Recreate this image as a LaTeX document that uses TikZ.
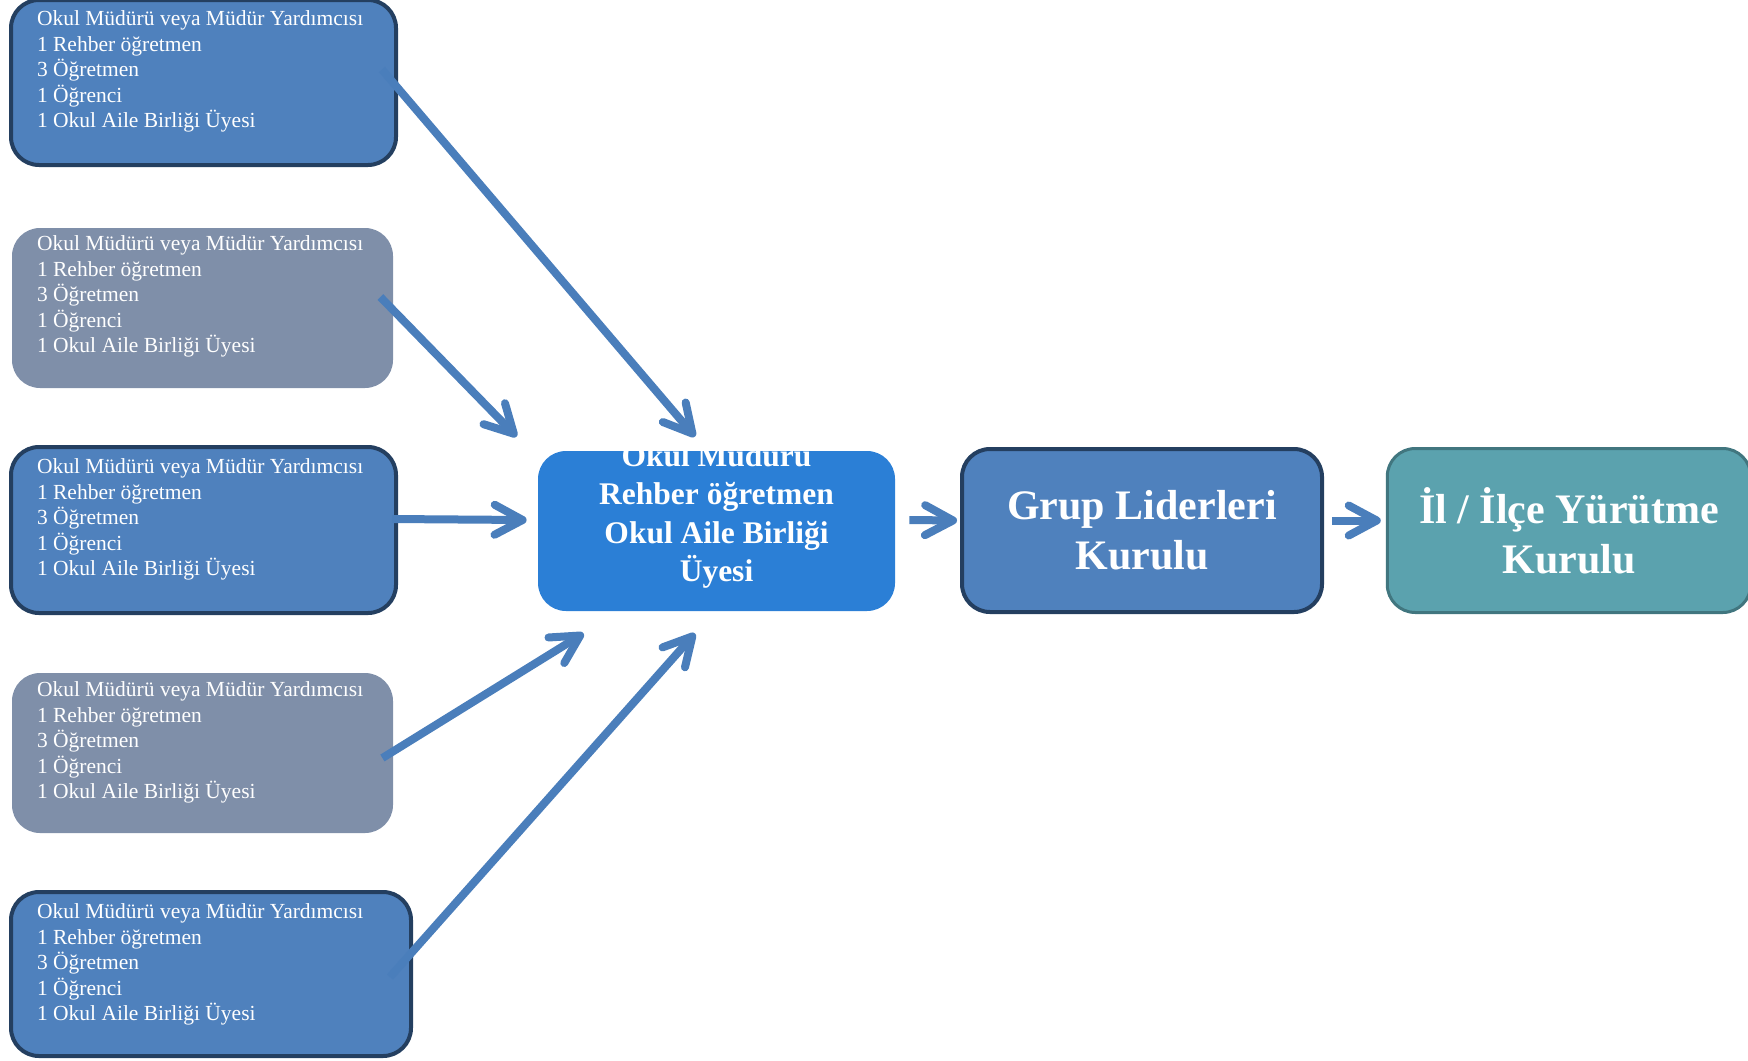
\documentclass[tikz,border=0pt]{standalone}
\usepackage{fontspec}
\setmainfont{Liberation Serif}
\usepackage{tikz}
\usetikzlibrary{arrows.meta}
\usetikzlibrary{calc}
\definecolor{kutumavi}{HTML}{4F81BD}
\definecolor{kenarlacivert}{HTML}{243F60}
\definecolor{grimavi}{HTML}{7F8FA9}
\definecolor{ortamavi}{HTML}{2B7FD6}
\definecolor{camgobegi}{HTML}{5BA2AE}
\definecolor{camkenar}{HTML}{41767F}
\definecolor{okmavi}{HTML}{4A7EBB}
\tikzstyle{uye} = [rounded corners=14pt, inner sep=0pt, text=white, font=\fontsize{10.75}{12.75}\selectfont]
\tikzstyle{uyekoyu} = [uye, fill=kutumavi, draw=kenarlacivert, line width=2pt]
\tikzstyle{uyegri} = [uye, fill=grimavi]
\tikzstyle{kurul} = [rounded corners=14pt, text=white, align=center, font=\fontsize{21}{25}\bfseries\selectfont]
\newcommand{\uyeler}[2]{\parbox[c][#2][t]{#1}{Okul Müdürü veya Müdür Yardımcısı\\1 Rehber öğretmen\\3 Öğretmen\\1 Öğrenci\\1 Okul Aile Birliği Üyesi}}

\begin{document}
\begin{tikzpicture}[x=0.5pt, y=-0.5pt,
                    ok/.style={draw=okmavi, line width=4pt, -{Straight Barb[round, length=14pt, width=15pt]}}]

    \useasboundingbox (0,0) rectangle (1748,1060);

    % okul temsilcileri
    \node[uyekoyu, minimum width=192.5pt, minimum height=82.5pt] (b1) at (203.5,82.5) {\uyeler{166.5pt}{71.7pt}};
    \node[uyegri, minimum width=190.5pt, minimum height=80pt] (b2) at (202.5,308) {\uyeler{165.5pt}{72.2pt}};
    \node[uyekoyu, minimum width=192.5pt, minimum height=83pt] (b3) at (203.5,530) {\uyeler{166.5pt}{71pt}};
    \node[uyegri, minimum width=190.5pt, minimum height=80pt] (b4) at (202.5,753) {\uyeler{165.5pt}{71pt}};
    \node[uyekoyu, minimum width=200pt, minimum height=82pt] (b5) at (211,974) {\uyeler{174pt}{70pt}};

    % okul kurulu
    \node[rounded corners=14pt, fill=ortamavi, minimum width=178.5pt, minimum height=80pt] (mid) at (716.5,531) {};
    \begin{scope}
        \clip[rounded corners=14pt] (mid.north west) rectangle (mid.south east);
        \node[text=white, align=center, font=\fontsize{15.75}{19.25}\bfseries\selectfont] (midyazi) at (716.5,516.5) {Okul Müdürü\\Rehber öğretmen\\Okul Aile Birliği\\Üyesi};
    \end{scope}

    % ust kurullar
    \node[kurul, fill=kutumavi, draw=kenarlacivert, line width=2pt, minimum width=180pt, minimum height=81.5pt] (grup) at (1142,530.5) {Grup Liderleri\\Kurulu};
    \node[kurul, fill=camgobegi, draw=camkenar, line width=1.5pt, minimum width=181.75pt, minimum height=82pt] (il) at (1569,530.5) {İl / İlçe Yürütme\\Kurulu};

    % ok uclari
    \coordinate (c1) at ($(b1.east)+(-16,-13)$);
    \coordinate (t1) at ($(mid.north)+(-21.5,-14)$);
    \coordinate (c2) at ($(b2.east)+(-13,-11)$);
    \coordinate (t2) at ($(mid.north west)+(-21,-14)$);
    \coordinate (c3) at ($(b3.east)+(-6,-11)$);
    \coordinate (t3) at ($(mid.west)+(-11,-11)$);
    \coordinate (c4) at ($(b4.east)+(-11,5)$);
    \coordinate (t4) at ($(mid.south west)+(46,22)$);
    \coordinate (c5) at ($(b5.east)+(-23,3)$);
    \coordinate (t5) at ($(mid.south)+(-21.5,22)$);
    \coordinate (c6) at ($(mid.east)+(14,-11)$);
    \coordinate (t6) at ($(grup.west)+(-3,-10)$);
    \coordinate (c7) at ($(grup.east)+(8,-10)$);
    \coordinate (t7) at ($(il.west)+(-5,-10)$);

    % temsilciler -> okul kurulu
    \draw[ok] (c1) -- (t1);
    \draw[ok] (c2) -- (t2);
    \draw[ok] (c3) -- (t3);
    \draw[ok] (c4) -- (t4);
    \draw[ok] (c5) -- (t5);

    % okul kurulu -> grup liderleri -> il / ilce
    \draw[ok] (c6) -- (t6);
    \draw[ok] (c7) -- (t7);
\end{tikzpicture}
\end{document}
